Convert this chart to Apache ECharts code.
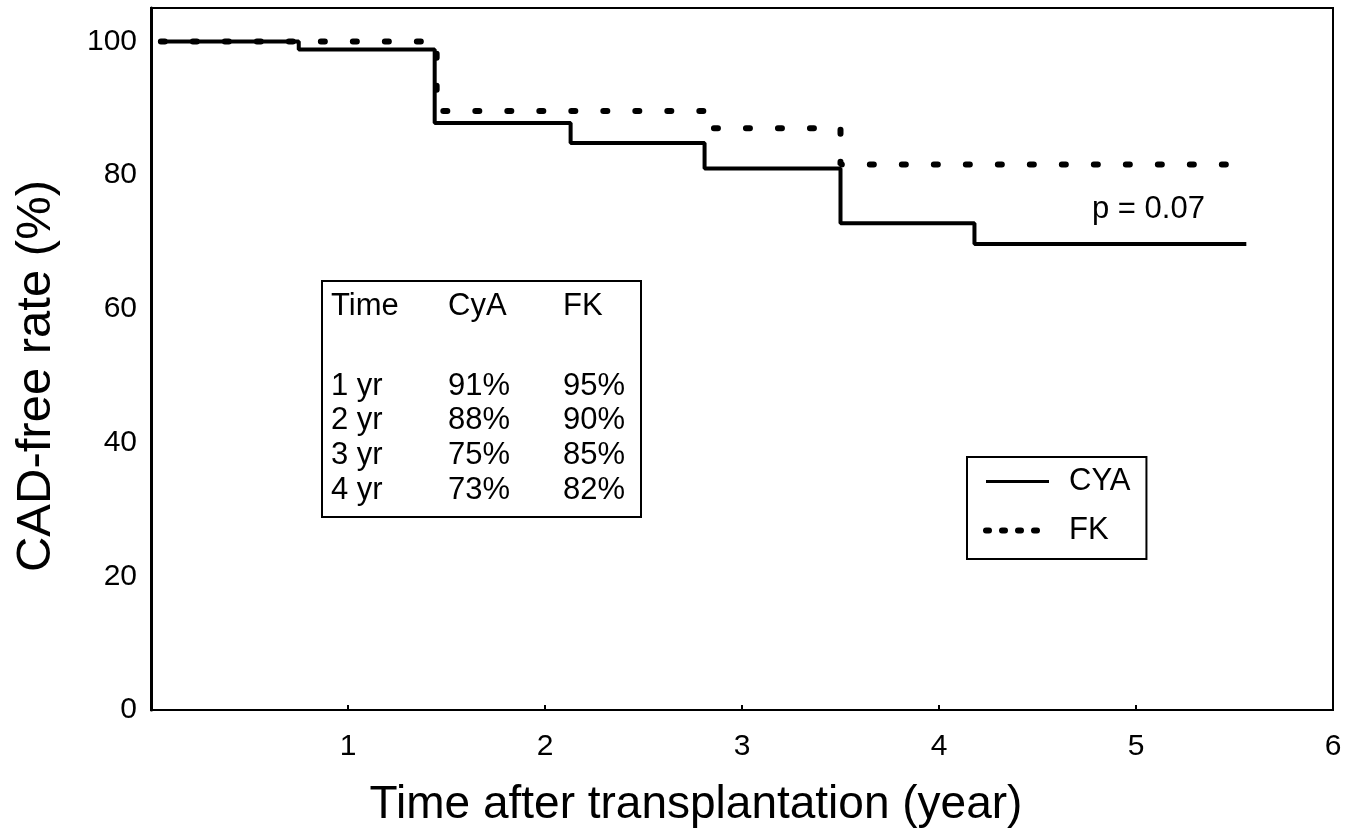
<!DOCTYPE html>
<html>
<head>
<meta charset="utf-8">
<script src="https://cdn.jsdelivr.net/npm/echarts@6/dist/echarts.min.js"></script>
<style>
html,body{margin:0;padding:0;background:#fff;}
#chart{width:1360px;height:839px;}
</style>
</head>
<body>
<div id="chart"></div>
<script>
// ---- data ----
const xTicks = [0, 1, 2, 3, 4, 5, 6];
const yTicks = [0, 20, 40, 60, 80, 100];
// Kaplan-Meier steps: [time (year), CAD-free rate (%)] — value after the drop at that time
const cyaSteps = [[0.05, 100], [0.75, 98.8], [1.44, 87.8], [2.13, 84.8], [2.81, 81.0], [3.50, 72.8], [4.18, 69.7], [5.56, 69.7]];
const fkSteps  = [[0.05, 100], [1.45, 89.6], [2.81, 87.0], [3.50, 81.6], [5.50, 81.6]];
const seriesNames = ['CYA', 'FK'];
const tableHeader = ['Time', 'CyA', 'FK'];
const tableTimes = ['1 yr', '2 yr', '3 yr', '4 yr'];
const tableCyA = ['91%', '88%', '75%', '73%'];
const tableFK = ['95%', '90%', '85%', '82%'];
const pText = 'p = 0.07';
const xName = 'Time after transplantation (year)';
const yName = 'CAD-free rate (%)';

const FONT = '"Liberation Sans", Arial, Helvetica, sans-serif';
const chart = echarts.init(document.getElementById('chart'), null, {renderer: 'canvas'});

// table graphic
const tableChildren = [
  {type: 'rect', shape: {x: 0, y: 0, width: 319, height: 236}, style: {fill: '#fff', stroke: '#000', lineWidth: 2}}
];
const colX = [9, 126, 241];
tableHeader.forEach((t, i) => tableChildren.push({type: 'text', x: colX[i], y: 25, style: {text: t, font: '31px ' + FONT, fill: '#000', textVerticalAlign: 'middle'}}));
const rowY = [105, 139, 174, 209];
tableTimes.forEach((t, r) => {
  [t, tableCyA[r], tableFK[r]].forEach((s, i) => tableChildren.push({type: 'text', x: colX[i], y: rowY[r], style: {text: s, font: '31px ' + FONT, fill: '#000', textVerticalAlign: 'middle'}}));
});

const option = {
  backgroundColor: '#fff',
  animation: false,
  grid: {left: 151, top: 8, width: 1182, height: 702, show: true, borderColor: '#000', borderWidth: 2, backgroundColor: 'transparent'},
  xAxis: {
    type: 'value', min: xTicks[0], max: xTicks[xTicks.length - 1], interval: 1,
    name: xName, nameLocation: 'middle', nameGap: 72,
    nameTextStyle: {fontSize: 46, fontFamily: FONT, color: '#000', padding: [0, 92, 0, 0]},
    axisLine: {show: true, lineStyle: {color: '#000', width: 2}},
    axisTick: {show: true, inside: true, length: 5, lineStyle: {color: '#000', width: 2}},
    axisLabel: {fontSize: 30, fontFamily: FONT, color: '#000', margin: 22, showMinLabel: false,
      formatter: v => (xTicks.indexOf(v) > 0 ? String(v) : '')},
    splitLine: {show: false}
  },
  yAxis: {
    type: 'value', min: 0, max: 105, interval: 20,
    name: yName, nameLocation: 'middle', nameGap: 90,
    nameTextStyle: {fontSize: 49, fontFamily: FONT, color: '#000', padding: [0, 34, 0, 0]},
    axisLine: {show: true, lineStyle: {color: '#000', width: 3}},
    axisTick: {show: false},
    axisLabel: {fontSize: 30, fontFamily: FONT, color: '#000', margin: 14, showMaxLabel: false,
      formatter: v => (yTicks.indexOf(v) >= 0 ? String(v) : '')},
    splitLine: {show: false}
  },
  legend: {
    orient: 'vertical', left: 967, top: 457,
    borderColor: '#000', borderWidth: 2, backgroundColor: '#fff',
    padding: [9, 16, 13, 16], itemGap: 18, itemWidth: 63, itemHeight: 30,
    textStyle: {fontSize: 31, fontFamily: FONT, color: '#000', padding: [0, 0, 0, 15]},
    data: [
      {name: seriesNames[0], itemStyle: {opacity: 0, color: 'rgba(0,0,0,0)', borderWidth: 0},
        lineStyle: {width: 3, type: 'solid', color: '#000'}},
      {name: seriesNames[1], itemStyle: {opacity: 0, color: 'rgba(0,0,0,0)', borderWidth: 0},
        lineStyle: {width: 6, type: [3, 13], cap: 'round', color: '#000'}}
    ]
  },
  graphic: [
    {type: 'group', left: 321, top: 280, children: tableChildren},
    {type: 'text', left: 1092, top: 194, style: {text: pText, font: '31px ' + FONT, fill: '#000'}}
  ],
  series: [
    {name: seriesNames[0], type: 'line', step: 'end', data: cyaSteps, showSymbol: false, symbol: 'none',
      lineStyle: {color: '#000', width: 4, type: 'solid'}, itemStyle: {color: '#000'}},
    {name: seriesNames[1], type: 'line', step: 'end', data: fkSteps, showSymbol: false, symbol: 'none',
      lineStyle: {color: '#000', width: 6, type: [4, 28], cap: 'round'}, itemStyle: {color: '#000'}}
  ]
};
chart.setOption(option);
</script>
</body>
</html>
